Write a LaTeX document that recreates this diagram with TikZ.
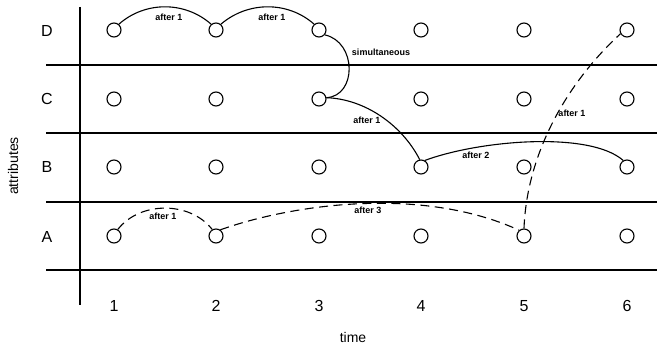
\documentclass[tikz,border=0pt]{standalone}
\usepackage{fontspec}
\setmainfont{Liberation Sans}
\begin{document}
\begin{tikzpicture}[x=1pt,y=-1pt,
  dot/.style={circle,draw,line width=1.1pt,minimum size=14pt,inner sep=0pt},
  grid/.style={line width=1.2pt},
  conn/.style={line width=1.1pt},
  dconn/.style={line width=1.1pt,dash pattern=on 9pt off 5.5pt},
  lab/.style={font=\bfseries\fontsize{9}{10}\selectfont,inner sep=0pt},
  big/.style={font=\fontsize{16}{18}\selectfont,inner sep=0pt},
  axlab/.style={font=\fontsize{14}{16}\selectfont,inner sep=0pt}]
\useasboundingbox (0,0) rectangle (657,347);
% axis and grid lines
\coordinate (vt) at (80,7);
\coordinate (vb) at (80,305);
\draw[grid] (vt) -- (vb);
\foreach \y/\n in {65/1,133/2,202/3,270/4}{
  \coordinate (hl\n) at (46,\y);
  \coordinate (hr\n) at (657,\y);
  \draw[grid] (hl\n) -- (hr\n);
}
% row labels
\node[big] (rD) at (47,31) {D};
\node[big] (rC) at (47,99) {C};
\node[big] (rB) at (47,167) {B};
\node[big] (rA) at (47,237) {A};
% column labels and event circles
\foreach \c/\x in {1/114,2/216,3/319,4/421,5/524,6/627}{
  \node[big] (t\c) at (\x,306) {\c};
  \node[dot] (n\c D) at (\x,30) {};
  \node[dot] (n\c C) at (\x,99) {};
  \node[dot] (n\c B) at (\x,167) {};
  \node[dot] (n\c A) at (\x,236) {};
}
\node[axlab] (time) at (353,337) {time};
\node[axlab,rotate=90] (attr) at (13,166) {attributes};
% solid connectors
\draw[conn] (n1D.50) .. controls (145,1) and (185,1) .. (n2D.130);
\draw[conn] (n2D.50) .. controls (248,1) and (288,1) .. (n3D.130);
\draw[conn] (n3D.-40) .. controls (357,42) and (357,96) .. (n3C.10);
\draw[conn] (n3C.10) .. controls (365,99) and (402,125) .. (n4B.100);
\draw[conn] (n4B.60) .. controls (480,140) and (590,131) .. (n6B.120);
% dashed connectors
\draw[dconn] (n1A.60) .. controls (140,201) and (190,201) .. (n2A.120);
\draw[dconn] (n2A.55) .. controls (290,205) and (420,185) .. (n5A.130);
\draw[dconn] (n5A.north) .. controls (527,150) and (570,80) .. (n6D.210);
% connector labels
\node[lab] (l1) at (169,17) {after 1};
\node[lab] (l2) at (272,17) {after 1};
\node[lab] (l3) at (381,52) {simultaneous};
\node[lab] (l4) at (367,120) {after 1};
\node[lab] (l5) at (476,155) {after 2};
\node[lab] (l6) at (572,113) {after 1};
\node[lab] (l7) at (163,216) {after 1};
\node[lab] (l8) at (368,210) {after 3};
\end{tikzpicture}
\end{document}
